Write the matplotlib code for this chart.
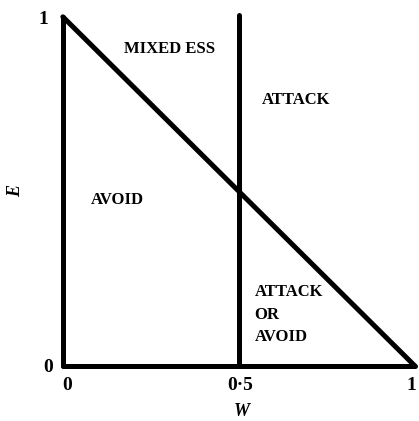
import matplotlib
matplotlib.use("Agg")
import matplotlib.pyplot as plt

# Boundary lines of the strategy regions (W on x, E on y)
axis_w = [0, 0]
axis_e = [0, 1]
base_w = [0, 1]
base_e = [0, 0]
diag_w = [0, 1]
diag_e = [1, 0]
split_w = [0.5, 0.5]
split_e = [0, 1.006]

x_ticks = [0, 0.5, 1]
x_tick_labels = ["0", "0·5", "1"]
y_ticks = [0, 1]
y_tick_labels = ["0", "1"]

region_labels = ["MIXED ESS", "ATTACK", "AVOID", "ATTACK\nOR\nAVOID"]
region_w = [0.303, 0.664, 0.156, 0.545]
region_e = [0.908, 0.762, 0.476, 0.147]
region_ha = ["center", "center", "center", "left"]

fig = plt.figure(figsize=(4.19, 4.21), dpi=100)
ax = fig.add_axes([0.150, 0.131, 0.840, 0.829])
ax.set_xlim(0, 1)
ax.set_ylim(0, 1)
ax.axis("off")

lw = 3.6
for xs, ys in [(axis_w, axis_e), (base_w, base_e), (diag_w, diag_e), (split_w, split_e)]:
    ax.plot(xs, ys, color="black", lw=lw, solid_capstyle="round", clip_on=False)

font = dict(family="Liberation Serif", fontweight="bold", color="black")

for lab, w, e, ha in zip(region_labels, region_w, region_e, region_ha):
    ax.text(w, e, lab, ha=ha, va="center", fontsize=12, linespacing=1.55, **font)

x_offsets = [4, 1, -3]
for t, lab, dx in zip(x_ticks, x_tick_labels, x_offsets):
    ax.annotate(lab, xy=(t, 0), xytext=(dx, -20), textcoords="offset pixels",
                ha="center", va="center", fontsize=14, annotation_clip=False, **font)
for t, lab in zip(y_ticks, y_tick_labels):
    ax.annotate(lab, xy=(0, t), xytext=(-15 if t == 0 else -20, -2 if t == 0 else -3),
                textcoords="offset pixels",
                ha="center", va="center", fontsize=14, annotation_clip=False, **font)

ax.text(0.509, -0.132, "W", ha="center", va="center", fontsize=13, style="italic",
        family="Liberation Serif", fontweight="bold", transform=ax.transAxes)
ax.text(-0.134, 0.50, "E", ha="center", va="center", fontsize=13, style="italic",
        family="Liberation Serif", fontweight="bold", rotation=90, transform=ax.transAxes)

fig.savefig("out.png", dpi=100, facecolor="white")
